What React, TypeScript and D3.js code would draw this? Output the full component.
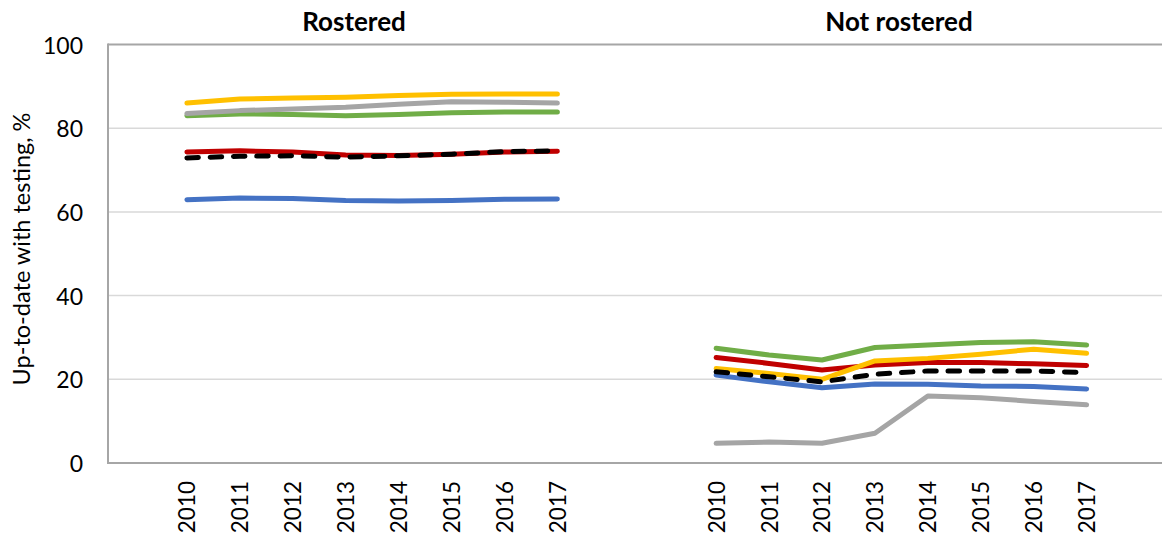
import React from 'react'
import * as d3 from 'd3'

// years on the category axis, same for both panels
const years = ['2010', '2011', '2012', '2013', '2014', '2015', '2016', '2017']
const panels = ['Rostered', 'Not rostered']
const yTicks = [0, 20, 40, 60, 80, 100]

// rostered
const rosteredBlue = [62.9, 63.3, 63.2, 62.7, 62.6, 62.7, 63.0, 63.1]
const rosteredRed = [74.3, 74.6, 74.3, 73.6, 73.5, 73.8, 74.3, 74.5]
const rosteredGreen = [83.0, 83.4, 83.3, 83.0, 83.3, 83.7, 83.9, 83.9]
const rosteredGray = [83.5, 84.2, 84.6, 85.0, 85.7, 86.3, 86.2, 86.0]
const rosteredYellow = [86.0, 87.0, 87.2, 87.4, 87.8, 88.1, 88.2, 88.2]
const rosteredTotal = [72.9, 73.3, 73.4, 73.1, 73.4, 73.8, 74.4, 74.6]

// not rostered
const notBlue = [21.0, 19.4, 18.0, 18.9, 18.8, 18.4, 18.3, 17.7]
const notRed = [25.2, 23.8, 22.2, 23.4, 24.0, 24.0, 23.7, 23.3]
const notGreen = [27.4, 25.8, 24.6, 27.6, 28.2, 28.8, 29.0, 28.2]
const notGray = [4.7, 5.0, 4.7, 7.1, 16.0, 15.6, 14.7, 13.9]
const notYellow = [22.6, 21.4, 20.0, 24.4, 25.0, 26.0, 27.2, 26.2]
const notTotal = [21.8, 20.6, 19.4, 21.2, 22.0, 22.0, 22.0, 21.6]

const series = [
  { color: '#4472c4', dash: null, values: [rosteredBlue, notBlue] },
  { color: '#c00000', dash: null, values: [rosteredRed, notRed] },
  { color: '#70ad47', dash: null, values: [rosteredGreen, notGreen] },
  { color: '#a5a5a5', dash: null, values: [rosteredGray, notGray] },
  { color: '#ffc000', dash: null, values: [rosteredYellow, notYellow] },
  { color: '#000000', dash: '11.5 11.8', values: [rosteredTotal, notTotal] },
]

const W = 1162
const H = 538
const font = 'Lato, "Open Sans", sans-serif'

// one long category axis: blank, 8 years, 2 blanks, 8 years, blank
const keyOf = (p: number, y: string) => p + '-' + y
const domain = [
  'pad-a',
  ...years.map(y => keyOf(0, y)),
  'pad-b',
  'pad-c',
  ...years.map(y => keyOf(1, y)),
  'pad-d',
]

export default function App() {
  const x = d3.scaleBand().domain(domain).range([107.5, 1166]).paddingInner(0)
  const y = d3.scaleLinear().domain([0, 100]).range([463, 44.5])
  const cx = (p: number, yr: string) => (x(keyOf(p, yr)) as number) + x.bandwidth() / 2

  const titleX = [354, 899]

  return (
    <div style={{ position: 'fixed', left: 0, top: 0, background: '#fff' }}>
      <svg width={W} height={H} style={{ display: 'block', fontFamily: font }}>
        {/* gridlines */}
        {yTicks.map(t => (
          <line
            key={t}
            x1={108}
            x2={W}
            y1={y(t)}
            y2={y(t)}
            stroke={t === 0 || t === 100 ? '#a6a6a6' : '#d9d9d9'}
            strokeWidth={t === 0 || t === 100 ? 2 : 1.5}
          />
        ))}
        <line x1={108} x2={108} y1={y(100) - 1} y2={y(0) + 1} stroke="#a6a6a6" strokeWidth={2} />

        {/* y tick labels */}
        {yTicks.map(t => (
          <text
            key={'l' + t}
            x={83}
            y={y(t)}
            textAnchor="end"
            dominantBaseline="central"
            fontSize={23}
            fill="#000"
          >
            {t}
          </text>
        ))}
        <text
          transform={`translate(21, 249) rotate(-90)`}
          textAnchor="middle"
          dominantBaseline="central"
          fontSize={23.5}
          fill="#000"
        >
          Up-to-date with testing, %
        </text>

        {/* year labels */}
        {panels.map((_, p) =>
          years.map(yr => (
            <text
              key={p + yr}
              transform={`translate(${cx(p, yr)}, 481) rotate(-90)`}
              textAnchor="end"
              dominantBaseline="central"
              fontSize={22.5}
              fill="#000"
            >
              {yr}
            </text>
          ))
        )}

        {/* panel titles */}
        {panels.map((name, p) => (
          <text key={name} x={titleX[p]} y={31} textAnchor="middle" fontSize={26} fontWeight="bold" fill="#000">
            {name}
          </text>
        ))}

        {/* lines */}
        {series.map((s, i) =>
          panels.map((_, p) => {
            const line = d3
              .line<number>()
              .x((_, j) => cx(p, years[j]))
              .y(d => y(d))
            return (
              <path
                key={i + '-' + p}
                d={line(s.values[p]) || ''}
                fill="none"
                stroke={s.color}
                strokeWidth={5}
                strokeLinecap="round"
                strokeLinejoin="round"
                strokeDasharray={s.dash || undefined}
              />
            )
          })
        )}
      </svg>
    </div>
  )
}
